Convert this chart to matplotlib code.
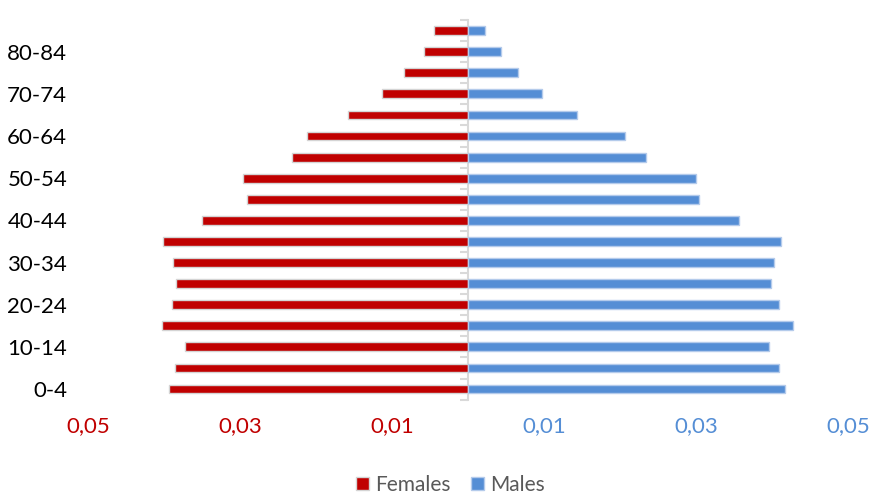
import numpy as np
import matplotlib.pyplot as plt
from matplotlib.ticker import FixedLocator, NullFormatter

plt.rcParams['font.family'] = ['Lato', 'DejaVu Sans']

# Age groups, bottom to top
ages = ["0-4", "5-9", "10-14", "15-19", "20-24", "25-29", "30-34", "35-39",
        "40-44", "45-49", "50-54", "55-59", "60-64", "65-69", "70-74",
        "75-79", "80-84", "85+"]

# Shares of population
females = [0.0393, 0.0386, 0.0372, 0.0403, 0.0389, 0.0384, 0.0388, 0.0401,
           0.0350, 0.0291, 0.0296, 0.0232, 0.0212, 0.0158, 0.0113,
           0.0084, 0.0058, 0.0045]
males = [0.0417, 0.0409, 0.0396, 0.0428, 0.0409, 0.0399, 0.0403, 0.0412,
         0.0357, 0.0304, 0.0300, 0.0234, 0.0207, 0.0143, 0.0097,
         0.0066, 0.0043, 0.0022]

xticks = [-0.05, -0.03, -0.01, 0.01, 0.03, 0.05]
xticklabels = ["0,05", "0,03", "0,01", "0,01", "0,03", "0,05"]

red = "#C00000"
blue = "#558ED5"
grid_grey = "#d9d9d9"

fig = plt.figure(figsize=(8.71, 4.97), dpi=100)
ax = fig.add_axes([0.101, 0.196, 0.8726, 0.7636])

y = np.arange(len(ages))
ax.barh(y, -np.array(females), height=0.42, color=red, edgecolor="#d4d4d4",
        linewidth=1.0, label="Females")
ax.barh(y, males, height=0.42, color=blue, edgecolor="#b4cbeb",
        linewidth=1.0, label="Males")

ax.set_xlim(-0.05, 0.05)
ax.set_ylim(-0.5, len(ages) - 0.5)

for s in ax.spines.values():
    s.set_visible(False)

# category labels: every other group
ax.set_yticks(y[::2])
ax.set_yticklabels(ages[::2], fontsize=16, color="#000000")
ax.tick_params(axis="y", length=0, pad=15)

ax.set_xticks(xticks)
ax.set_xticklabels(xticklabels, fontsize=16)
ax.tick_params(axis="x", length=0, pad=12)
for lab, v in zip(ax.get_xticklabels(), xticks):
    lab.set_color(red if v < 0 else blue)

# central vertical axis with boundary ticks
sec = ax.secondary_yaxis(0.5)
for s in sec.spines.values():
    s.set_color(grid_grey)
    s.set_linewidth(1.5)
sec.yaxis.set_major_locator(FixedLocator(np.arange(-0.5, len(ages), 1.0)))
sec.yaxis.set_major_formatter(NullFormatter())
sec.yaxis.set_ticks_position("left")
sec.tick_params(axis="y", which="both", direction="out", length=6, width=1.5,
                color=grid_grey, labelleft=False, labelright=False)

leg = fig.legend(loc="center", bbox_to_anchor=(0.517, 0.024), ncol=2,
                 frameon=False, fontsize=15, handlelength=0.6,
                 handleheight=0.6, handletextpad=0.3, columnspacing=1.0)
for t in leg.get_texts():
    t.set_color("#595959")

fig.savefig("out.png", dpi=100)
